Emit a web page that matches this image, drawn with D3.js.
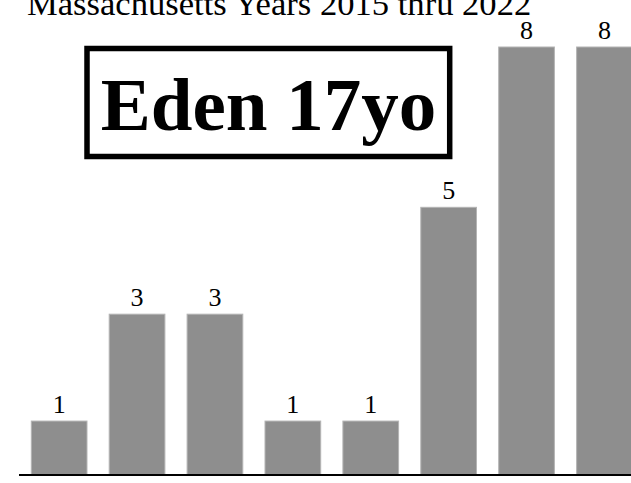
<!DOCTYPE html>
<html>
<head>
<meta charset="utf-8">
<script src="https://cdn.jsdelivr.net/npm/d3@7"></script>
<style>
  html, body { margin: 0; padding: 0; background: #fff; overflow: hidden; }
</style>
</head>
<body>
<div id="chart"></div>
<script>
// data
let years = ["2015", "2016", "2017", "2018", "2019", "2020", "2021", "2022"];
let counts = [1, 3, 3, 1, 1, 5, 8, 8];
let titleText = "Massachusetts Years 2015 thru 2022";
let boxText = "Eden 17yo";

function buildChart(div_id)
{
  let width = 631;
  let height = 483;
  let serif = "'Liberation Serif', 'Times New Roman', serif";

  let svg = d3.select("#"+div_id)
    .append("svg")
    .attr("width", width)
    .attr("height", height);

  //scales, the plot runs a little past the right edge like the original
  let x = d3.scaleBand()
    .range([20.2, 643.4])
    .domain(years)
    .paddingInner(0.285)
    .paddingOuter(0.1425);

  let y = d3.scaleLinear()
    .domain([0, 8])
    .range([474.5, 47]);

  let data = years.map(function(d, i) { return [d, counts[i]]; });

  //bars
  svg.selectAll("rect.bar")
      .data(data)
      .enter()
      .append("rect")
      .attr("class", "bar")
      .attr("x", function(d) { return x(d[0]); })
      .attr("y", function(d) { return y(d[1]); })
      .attr("width", x.bandwidth())
      .attr("height", function(d) { return y(0) - y(d[1]); })
      .attr("fill", "#8e8e8e")
      .attr("stroke", "#b4b4b4")
      .attr("stroke-width", 1);

  //value labels
  svg.selectAll("text.val")
      .data(data)
      .enter()
      .append("text")
      .attr("class", "val")
      .attr("x", function(d) { return x(d[0]) + x.bandwidth()*0.5; })
      .attr("y", function(d) { return y(d[1]) - 8; })
      .text(function(d) { return d[1]; })
      .attr("text-anchor", "middle")
      .style("font-family", serif)
      .style("font-size", "26px")
      .attr("fill", "#000");

  //baseline
  let axis = svg.append("g")
      .attr("transform", "translate(0," + y(0) + ")")
      .call(d3.axisBottom(x).tickSize(0).tickFormat(""));
  axis.select(".domain")
      .attr("d", "M19,0.5H" + width)
      .attr("stroke", "#000")
      .attr("stroke-width", 2);

  //title, clipped at the top in the original
  svg.append("text")
      .attr("x", 27)
      .attr("y", 15)
      .text(titleText)
      .style("font-family", serif)
      .style("font-size", "34.6px")
      .attr("fill", "#000");

  //name box
  svg.append("rect")
      .attr("x", 87)
      .attr("y", 48.5)
      .attr("width", 362.7)
      .attr("height", 108)
      .attr("fill", "#fff")
      .attr("stroke", "#000")
      .attr("stroke-width", 5.5);

  svg.append("text")
      .attr("x", 268.4)
      .attr("y", 130)
      .text(boxText)
      .attr("text-anchor", "middle")
      .style("font-family", serif)
      .style("font-weight", "bold")
      .style("font-size", "75px")
      .attr("fill", "#000");
}

buildChart("chart");
</script>
</body>
</html>
